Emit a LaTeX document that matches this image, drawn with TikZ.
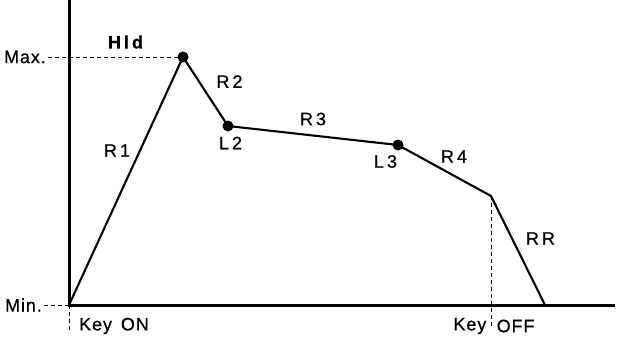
\documentclass[tikz,border=0pt]{standalone}
\usepackage{fontspec}
\setmainfont{Liberation Sans}[LetterSpace=5,FakeBold=0.7]
\begin{document}
\begin{tikzpicture}[x=1pt,y=-1pt,
  axis/.style={line width=3pt},
  env/.style={line width=2.1pt,line join=round},
  guide/.style={line width=0.9pt,dash pattern=on 3.5pt off 3.5pt},
  dot/.style={circle,fill=black,inner sep=0pt,minimum size=11pt},
  lab/.style={inner sep=0pt,font=\fontsize{18}{21}\selectfont}]
\useasboundingbox (0,0) rectangle (619,349);
% axes
\coordinate (top) at (69,0);
\coordinate (O) at (69,305);
\coordinate (xend) at (615,305);
\draw[axis] (top) -- (O) -- (xend);
% envelope points
\coordinate (P0) at (183,57);
\coordinate (P1) at (228,126);
\coordinate (P2) at (398,145);
\coordinate (K) at (491,196);
\coordinate (E) at (545,305);
% guides
\node[lab,anchor=east] (max) at (46,57) {Max.};
\node[lab,anchor=east] (min) at (42,305) {Min.};
\draw[guide] ([xshift=2pt]max.east) -- (P0);
\draw[guide] ([xshift=2pt]min.east) -- (O);
\coordinate (kon) at (69,333);
\coordinate (koff) at (491,327);
\draw[guide] (O) -- (kon);
\draw[guide] (K) -- (koff);
% envelope
\draw[env] (O) -- (P0) -- (P1) -- (P2) -- (K) -- (E);
\node[dot] (peak) at (P0) {};
\node[dot] (l2dot) at (P1) {};
\node[dot] (l3dot) at (P2) {};
% labels
\node[lab,font=\fontsize{18}{21}\selectfont\bfseries] (hld) at (125.5,42) {H\,l\,d};
\node[lab] (r1) at (117,150.5) {R\,1};
\node[lab] (r2) at (229.5,81.5) {R\,2};
\node[lab] (l2) at (230.5,143) {L\,2};
\node[lab] (r3) at (313,119) {R\,3};
\node[lab] (l3) at (385.5,161.5) {L\,3};
\node[lab] (r4) at (454,156.5) {R\,4};
\node[lab] (rr) at (540.5,238.5) {R\,R};
\node[lab] (keyon) at (114,326) {Key\ \,ON};
\node[lab,anchor=east] (key) at (486.5,326) {Key};
\node[lab,anchor=west] (off) at (496.5,326) {OFF};
\end{tikzpicture}
\end{document}
